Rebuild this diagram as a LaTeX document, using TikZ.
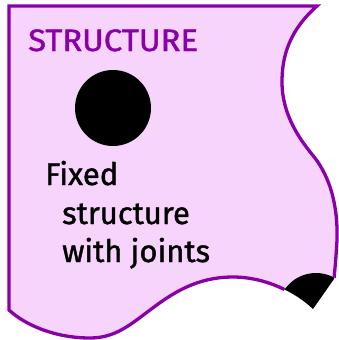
\documentclass[tikz,border=0pt]{standalone}
\usepackage{fontspec}
\setmainfont{Fira Sans}[FakeBold=1.3]
\definecolor{tornline}{RGB}{138,0,168}
\definecolor{tornfill}{RGB}{246,212,252}
\newcommand{\tornsheet}{(9,6) -- (317,6)
  .. controls (290,30) and (282,55) .. (282,82)
  .. controls (282,115) and (300,140) .. (315,158)
  .. controls (330,178) and (338,205) .. (337,240)
  .. controls (336,258) and (335,268) .. (334,279)
  -- (313,309)
  .. controls (295,292) and (265,277) .. (233,277)
  .. controls (195,277) and (170,295) .. (150,310)
  .. controls (130,325) and (115,338) .. (90,338)
  .. controls (55,338) and (25,325) .. (9,310) -- cycle}

\begin{document}
\begin{tikzpicture}
[x=1pt,y=-1pt,%
  pinhole/.style={shape=circle,fill=black,minimum size=76pt,inner sep=0pt},%
  caption/.style={anchor=base west,inner sep=0pt,font=\fontsize{31}{36}\selectfont}]
\useasboundingbox (0,0) rectangle (338,340);
\filldraw[fill=tornfill,draw=tornline,line width=3.3pt] \tornsheet;
\begin{scope}
  \clip (316,311) circle (38);
  \draw[white,line width=4.5pt] \tornsheet;
\end{scope}
\begin{scope}
  \clip \tornsheet;
  \node[pinhole] (cornerpin) at (316,311) {};
\end{scope}
\node[pinhole] (pin) at (113,108) {};
\node[caption,text=tornline] (title) at (28,51) {\scalebox{1.06}[1]{STRUCTURE}};
\node[caption] (fixed) at (45,185) {Fixed};
\node[caption] (structure) at (62,224) {structure};
\node[caption] (joints) at (62,262) {with joints};
\end{tikzpicture}
\end{document}
